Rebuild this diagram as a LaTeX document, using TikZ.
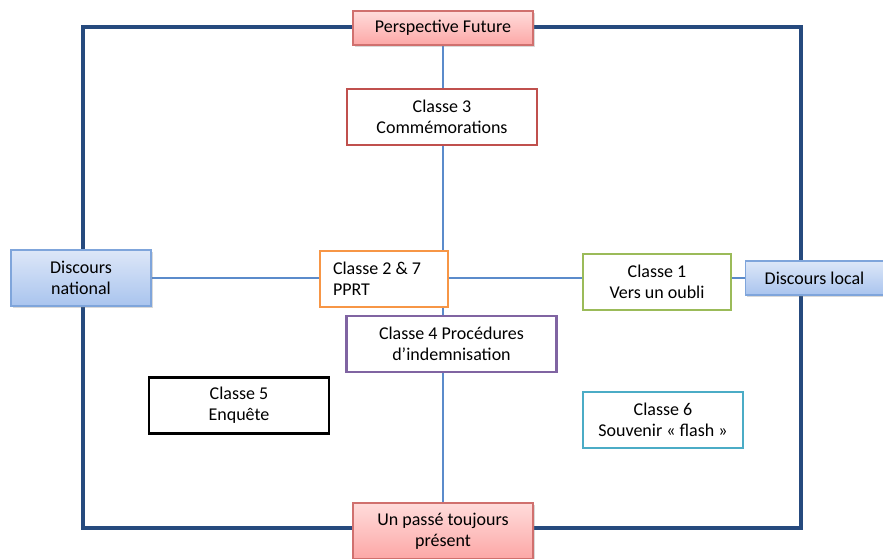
\documentclass[tikz,border=0pt]{standalone}
\usepackage{fontspec}
\setmainfont{Carlito}
\usepackage{tikz}
\usetikzlibrary{backgrounds,shadows}

\definecolor{framecol}{HTML}{264A7E}
\definecolor{axiscol}{HTML}{5B8BCB}
\definecolor{redcol}{HTML}{C0504D}
\definecolor{orangecol}{HTML}{F79646}
\definecolor{greencol}{HTML}{9BBB59}
\definecolor{purplecol}{HTML}{8064A2}
\definecolor{tealcol}{HTML}{4BACC6}
\definecolor{pinktop}{HTML}{FFDCDB}
\definecolor{pinkbot}{HTML}{FCA7A6}
\definecolor{pinkline}{HTML}{D0706E}
\definecolor{bluetop}{HTML}{DDE7F8}
\definecolor{bluebot}{HTML}{A9C4EE}
\definecolor{blueline}{HTML}{7FA5DB}

\begin{document}
\begin{tikzpicture}[x=0.75pt, y=-0.75pt,
  every node/.style={font=\fontsize{13.5}{15.8}\selectfont, inner sep=0pt},
  classbox/.style={rectangle, draw, fill=white, line width=2.2pt, align=center},
  pinkbox/.style={rectangle, draw=pinkline, line width=0.8pt, top color=pinktop, bottom color=pinkbot,
    align=center, drop shadow={opacity=0.3, shadow xshift=1.2pt, shadow yshift=-1.2pt}},
  bluebox/.style={rectangle, draw=blueline, line width=0.8pt, top color=bluetop, bottom color=bluebot,
    align=center, drop shadow={opacity=0.3, shadow xshift=1.2pt, shadow yshift=-1.2pt}},
  axis/.style={draw=axiscol, line width=0.9pt}]
\useasboundingbox (0,0) rectangle (883,558);

% outer frame corners
\coordinate (nw) at (83,27);
\coordinate (ne) at (801,27);
\coordinate (se) at (801,528);
\coordinate (sw) at (83,528);

% poles
\node (futur) [pinkbox, minimum width=135pt, minimum height=25.5pt] at (443,28) {Perspective Future};
\node (passe) [pinkbox, minimum width=135pt, minimum height=42pt] at (443,531) {Un passé toujours\\présent};
\node (national) [bluebox, minimum width=105pt, minimum height=42pt] at (81,278) {Discours\\national};
\node (local) [bluebox, minimum width=103pt, minimum height=25.5pt] at (814.5,278) {Discours local};

% classes
\node (c3) [classbox, draw=redcol, minimum width=142.5pt, minimum height=42pt] at (442,117) {Classe 3\\Commémorations};
\node (c27) [classbox, draw=orangecol, minimum height=42pt, text width=76.5pt, inner xsep=9.75pt, align=flush left] at (384,279) {Classe 2 \& 7\\PPRT};
\node (c1) [classbox, draw=greencol, minimum width=111pt, minimum height=42pt] at (657,282) {Classe 1\\Vers un oubli};
\node (c4) [classbox, draw=purplecol, minimum width=157pt, minimum height=42pt] at (451.5,344) {Classe 4 Procédures\\d’indemnisation};
\node (c5) [classbox, draw=black, minimum width=135pt, minimum height=42.5pt] at (239,405.5) {Classe 5\\Enquête};
\node (c6) [classbox, draw=tealcol, minimum width=120pt, minimum height=42pt] at (663,420) {Classe 6\\Souvenir « flash »};

\begin{scope}[on background layer]
\draw[framecol, line width=2.3pt] (nw) -- (ne) -- (se) -- (sw) -- cycle;
\draw[axis] (futur) -- (passe);
\draw[axis] (national) -- (local);
\end{scope}
\end{tikzpicture}
\end{document}
